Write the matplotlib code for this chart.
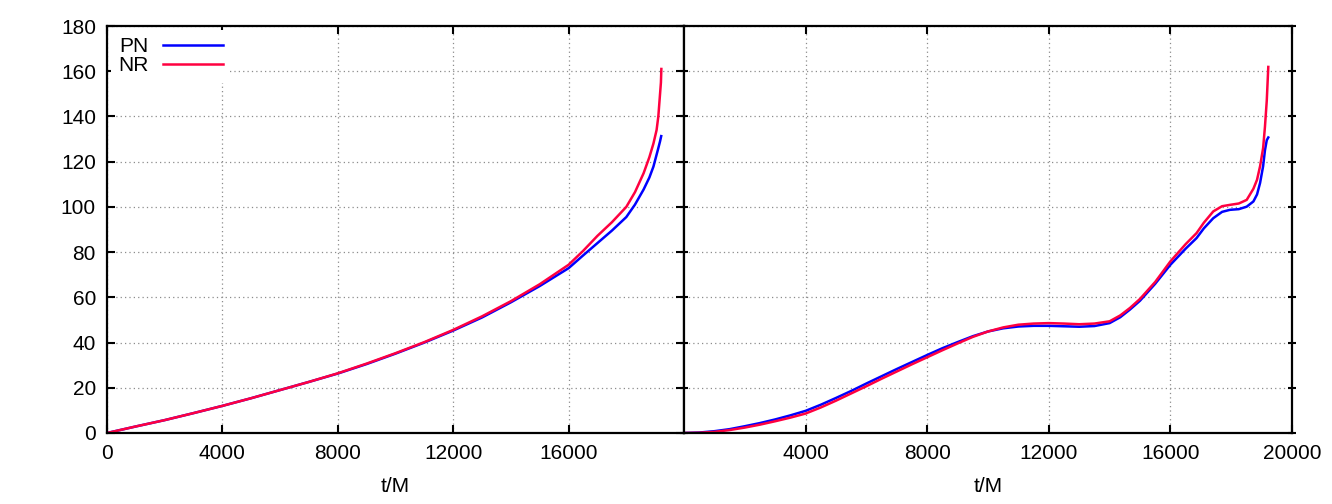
import matplotlib
matplotlib.use("Agg")
from matplotlib import pyplot as plt

plt.rcParams['font.family'] = ['Liberation Sans', 'DejaVu Sans']

# left panel: t/M and the two curves
t_left = [0, 1000, 2000, 3000, 4000, 5000, 6000, 7000, 8000, 9000, 10000,
          11000, 12000, 13000, 14000, 15000, 16000, 16500, 17000, 17500,
          18000, 18300, 18600, 18800, 18940, 19050, 19110, 19170, 19200,
          19215]
nr_left = [0, 2.9, 5.7, 8.8, 12.0, 15.4, 19.0, 22.6, 26.4, 30.7, 35.3,
           40.2, 45.6, 51.6, 58.3, 65.8, 74.4, 80.5, 87.2, 93.2,
           100.0, 106.5, 114.9, 122.0, 128.0, 134.0, 140.0, 150.0, 155.0,
           161.0]
t_left_pn = [0, 1000, 2000, 3000, 4000, 5000, 6000, 7000, 8000, 9000, 10000,
             11000, 12000, 13000, 14000, 15000, 16000, 16500, 17000, 17500,
             18000, 18300, 18600, 18800, 18940, 19100, 19170, 19210]
pn_left = [0, 2.9, 5.7, 8.8, 12.0, 15.4, 19.0, 22.6, 26.3, 30.5, 35.1,
           40.0, 45.3, 51.1, 57.8, 65.0, 72.9, 78.5, 84.0, 89.5,
           95.5, 101.0, 107.7, 113.0, 117.8, 125.5, 129.0, 131.3]

# right panel
t_right = [0, 500, 1000, 1500, 2000, 2500, 3000, 3500, 4000, 4500, 5000,
           5500, 6000, 6500, 7000, 7500, 8000, 8500, 9000, 9500, 10000,
           10500, 11000, 11500, 12000, 12500, 13000, 13500, 14000, 14350,
           14670, 15000, 15500, 16000, 16500, 16860, 17100, 17410, 17700,
           17960, 18250, 18510, 18730, 18850, 18950, 19050, 19110, 19170,
           19220]
pn_right = [0, 0.2, 0.8, 1.7, 3.0, 4.4, 6.0, 7.8, 9.8, 12.5, 15.5,
            18.6, 21.9, 25.1, 28.3, 31.4, 34.5, 37.5, 40.2, 42.8, 44.9,
            46.3, 47.1, 47.4, 47.4, 47.2, 47.0, 47.3, 48.6, 51.2,
            54.6, 58.5, 66.0, 74.4, 81.5, 86.2, 90.5, 95.0, 97.8,
            98.7, 99.0, 100.1, 102.4, 105.5, 110.6, 118.0, 125.0, 129.5,
            130.7]
nr_right = [0, 0.1, 0.5, 1.3, 2.4, 3.7, 5.2, 6.8, 8.6, 11.3, 14.3,
            17.5, 20.7, 24.0, 27.2, 30.4, 33.5, 36.6, 39.6, 42.5, 44.9,
            46.7, 47.9, 48.4, 48.6, 48.4, 48.1, 48.4, 49.4, 52.0,
            55.3, 59.3, 66.8, 75.9, 83.5, 88.4, 93.0, 98.0, 100.3,
            100.9, 101.5, 103.1, 108.0, 112.0, 118.0, 126.0, 135.4, 147.0,
            161.9]

yticks = list(range(0, 181, 20))
xticks_left = [0, 4000, 8000, 12000, 16000]
xticks_right = [4000, 8000, 12000, 16000, 20000]

blue = "#0000ff"
red = "#ff0040"

W, H = 1332, 504
fig = plt.figure(figsize=(W / 100, H / 100), dpi=100)
bottom = (H - 433) / H
height = 407 / H
ax1 = fig.add_axes([107 / W, bottom, 577 / W, height])
ax2 = fig.add_axes([684 / W, bottom, 608 / W, height])

for ax in (ax1, ax2):
    ax.set_xlim(0, 20000)
    ax.set_ylim(0, 180)
    ax.set_yticks(yticks)
    ax.grid(True, color="0.55", linestyle=(0, (1, 2.5)), linewidth=0.9)
    ax.tick_params(direction="in", length=6, width=1.5, top=True, right=True,
                   labelsize=15, pad=8, colors="black")
    for s in ax.spines.values():
        s.set_linewidth(1.6)
    ax.set_xlabel("t/M", fontsize=15, labelpad=10)

ax1.plot(t_left_pn, pn_left, color=blue, lw=1.8, label="PN")
ax1.plot(t_left, nr_left, color=red, lw=1.8, label="NR")
ax1.set_xticks(xticks_left)

ax2.plot(t_right, pn_right, color=blue, lw=1.8)
ax2.plot(t_right, nr_right, color=red, lw=1.8)
ax2.set_xticks(xticks_right)
ax2.tick_params(labelleft=False)
# shared middle axis: ticks on both sides
ax2.yaxis.set_tick_params(which="both", left=True, direction="inout", length=6)

leg = ax1.legend(loc="upper left", bbox_to_anchor=(0.0, 1.0), markerfirst=False,
                 fontsize=15, frameon=True, fancybox=False, framealpha=1,
                 facecolor="white", edgecolor="none", handlelength=2.85,
                 handletextpad=0.7, labelspacing=0.0, borderpad=0.35,
                 borderaxespad=0.2)
for text in leg.get_texts():
    text.set_ha("right")

plt.savefig("out.png", dpi=100)
